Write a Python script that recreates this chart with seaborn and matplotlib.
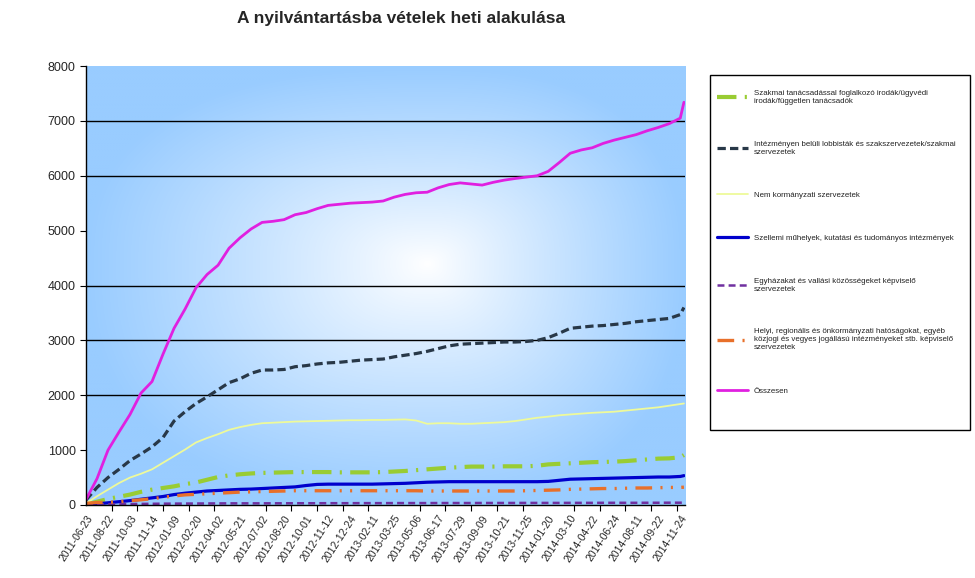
import matplotlib
matplotlib.use('Agg')
import matplotlib.pyplot as plt
import numpy as np
import pandas as pd
import seaborn as sns
from matplotlib.patches import Rectangle
from matplotlib.lines import Line2D

# tick labels (every 6th week of the category axis)
cimkek = ['2011-06-23', '2011-08-22', '2011-10-03', '2011-11-14', '2012-01-09',
          '2012-02-20', '2012-04-02', '2012-05-21', '2012-07-02', '2012-08-20',
          '2012-10-01', '2012-11-12', '2012-12-24', '2013-02-11', '2013-03-25',
          '2013-05-06', '2013-06-17', '2013-07-29', '2013-09-09', '2013-10-21',
          '2013-11-25', '2014-01-20', '2014-03-10', '2014-04-22', '2014-06-24',
          '2014-08-11', '2014-09-22', '2014-11-24']
cimke_het = list(range(0, 163, 6))

# week index of the values (every 3rd week + last one)
het = list(range(0, 163, 3)) + [163]

szakmai = [10, 60, 110, 150, 190, 240, 280, 310, 340, 380,
           410, 460, 510, 540, 560, 575, 585, 590, 595, 600,
           600, 600, 600, 595, 595, 595, 595, 600, 610, 620,
           635, 650, 665, 680, 690, 700, 700, 700, 705, 705,
           705, 715, 740, 750, 760, 770, 780, 785, 790, 800,
           815, 830, 845, 850, 870, 910]
lobbi = [90, 320, 500, 650, 810, 930, 1060, 1230, 1530, 1700,
         1850, 1970, 2100, 2230, 2300, 2400, 2460, 2460, 2470, 2520,
         2540, 2570, 2590, 2600, 2620, 2640, 2650, 2660, 2700, 2730,
         2760, 2800, 2850, 2900, 2930, 2940, 2950, 2960, 2970, 2970,
         2980, 3000, 3050, 3130, 3220, 3240, 3260, 3270, 3290, 3310,
         3340, 3360, 3380, 3400, 3470, 3600]
ngo = [30, 160, 280, 400, 500, 570, 650, 770, 890, 1010,
       1140, 1220, 1290, 1370, 1420, 1460, 1490, 1500, 1510, 1520,
       1525, 1530, 1535, 1540, 1545, 1545, 1550, 1550, 1555, 1560,
       1540, 1480, 1490, 1490, 1480, 1480, 1490, 1500, 1510, 1530,
       1560, 1590, 1610, 1635, 1650, 1665, 1680, 1690, 1700, 1720,
       1740, 1760, 1780, 1810, 1840, 1850]
szellemi = [0, 20, 40, 60, 80, 105, 130, 155, 190, 215,
            235, 255, 265, 275, 285, 290, 300, 310, 320, 330,
            355, 375, 380, 380, 380, 380, 380, 385, 390, 395,
            405, 415, 420, 425, 425, 425, 425, 425, 425, 425,
            425, 425, 430, 450, 470, 475, 480, 485, 490, 495,
            500, 505, 510, 510, 520, 535]
egyhaz = [5, 10, 12, 15, 18, 20, 22, 24, 25, 26,
          27, 28, 29, 30, 30, 30, 30, 31, 31, 32,
          32, 32, 33, 33, 33, 34, 34, 34, 35, 35,
          35, 35, 36, 36, 36, 36, 37, 37, 37, 37,
          38, 38, 38, 38, 39, 39, 39, 40, 40, 40,
          40, 41, 41, 42, 42, 43]
helyi = [30, 45, 50, 60, 80, 95, 115, 140, 165, 185,
         195, 205, 215, 225, 235, 240, 245, 250, 255, 260,
         260, 260, 260, 260, 260, 260, 260, 260, 260, 260,
         260, 255, 255, 255, 255, 255, 255, 255, 255, 255,
         260, 265, 270, 275, 285, 290, 295, 300, 300, 305,
         310, 310, 315, 320, 320, 325]
osszesen = [100, 480, 1000, 1330, 1650, 2040, 2250, 2750, 3220, 3570,
            3960, 4200, 4370, 4680, 4870, 5030, 5150, 5170, 5200, 5290,
            5330, 5400, 5460, 5480, 5500, 5510, 5520, 5540, 5610, 5660,
            5690, 5700, 5780, 5840, 5870, 5850, 5830, 5880, 5920, 5950,
            5975, 6000, 6080, 6240, 6410, 6470, 6510, 6590, 6650, 6700,
            6750, 6820, 6880, 6950, 7050, 7340]

nevek = ['Szakmai tanácsadással foglalkozó irodák/ügyvédi\nirodák/független tanácsadók',
         'Intézményen belüli lobbisták és szakszervezetek/szakmai\nszervezetek',
         'Nem kormányzati szervezetek',
         'Szellemi műhelyek, kutatási és tudományos intézmények',
         'Egyházakat és vallási közösségeket képviselő\nszervezetek',
         'Helyi, regionális és önkormányzati hatóságokat, egyéb\nközjogi és vegyes jogállású intézményeket stb. képviselő\nszervezetek',
         'Összesen']

df = pd.DataFrame({'het': het, 'szakmai': szakmai, 'lobbi': lobbi, 'ngo': ngo,
                   'szellemi': szellemi, 'egyhaz': egyhaz, 'helyi': helyi,
                   'osszesen': osszesen})

sns.set_style('white')
plt.rcParams['font.family'] = ['Liberation Sans', 'DejaVu Sans']
plt.rcParams['lines.scale_dashes'] = False

fig = plt.figure(figsize=(9.75, 5.78), dpi=100)
ax = fig.add_axes([0.0882, 0.1263, 0.6144, 0.7595])

# gradient fill of the plot area (light blue edges, white centre)
u = np.linspace(0, 1, 400)
v = np.linspace(0, 1, 300)
U, V = np.meshgrid(u, v)
cu, cv = 0.57, 0.55
dx = np.where(U < cu, (cu - U) / cu, (U - cu) / (1 - cu))
dy = np.where(V < cv, (cv - V) / cv, (V - cv) / (1 - cv))
t = np.clip((dx ** 2.5 + dy ** 2.5) ** (1 / 2.5), 0, 1) ** 0.9
edge = np.array([153, 204, 255]) / 255
img = 1 - t[..., None] * (1 - edge)
ax.imshow(img, extent=[0, 1, 0, 1], transform=ax.transAxes, origin='lower',
          aspect='auto', zorder=0, interpolation='bilinear')

for g in [2000, 3000, 4000, 6000, 7000]:
    ax.axhline(g, color='black', lw=1, zorder=1)

stilus = [
    ('szakmai', '#99CC33', 3.0, (0, (14, 6, 1.5, 6))),
    ('lobbi', '#283848', 2.3, (0, (6, 3))),
    ('ngo', '#EEFA9A', 1.3, '-'),
    ('szellemi', '#0000CC', 2.3, '-'),
    ('egyhaz', '#7030A0', 1.8, (0, (5, 3))),
    ('helyi', '#E8702A', 2.4, (0, (12, 6, 1.5, 6, 1.5, 6))),
    ('osszesen', '#E020E0', 2.0, '-'),
]
kezek = []
for (oszlop, szin, vastag, vonal), nev in zip(stilus, nevek):
    sns.lineplot(data=df, x='het', y=oszlop, ax=ax, color=szin, lw=vastag,
                 linestyle=vonal, zorder=3)
    kezek.append(Line2D([], [], color=szin, lw=vastag, linestyle=vonal))

ax.set_xlim(0, 163.3)
ax.set_ylim(0, 8000)
ax.set_yticks(range(0, 8001, 1000))
ax.set_xticks(cimke_het)
ax.set_xticklabels(cimkek, rotation=57, ha='right', rotation_mode='anchor',
                   fontsize=7.5)
ax.set_xticks(list(range(0, 164, 7)), minor=True)
ax.tick_params(axis='x', which='major', length=0, pad=6)
ax.tick_params(axis='x', which='minor', length=4, width=0.8, color='black',
               direction='out', bottom=True)
ax.tick_params(axis='y', length=4, width=0.8, color='black', direction='out',
               left=True, labelsize=9)
ax.set_xlabel('')
ax.set_ylabel('')
for s in ['top', 'right']:
    ax.spines[s].set_visible(False)
for s in ['left', 'bottom']:
    ax.spines[s].set_color('black')
    ax.spines[s].set_linewidth(1)
    ax.spines[s].set_zorder(4)

fig.text(0.411, 0.968, 'A nyilvántartásba vételek heti alakulása',
         ha='center', va='center', fontsize=12.5, fontweight='bold')

fig.patches.append(Rectangle((0.728, 0.256), 0.267, 0.614,
                             transform=fig.transFigure, fill=False,
                             ec='black', lw=1))
fig.legend(kezek, nevek, loc='upper left', bbox_to_anchor=(0.729, 0.855),
           frameon=False, fontsize=5.7, labelspacing=4.5, handlelength=3.9,
           handletextpad=0.7, borderpad=0.3, labelcolor='#222222')

fig.savefig('out.png', dpi=100)
